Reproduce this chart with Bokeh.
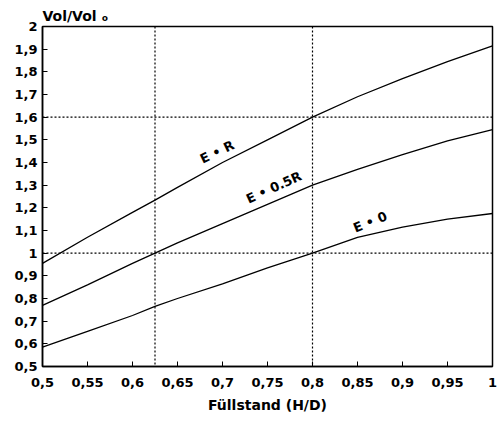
from bokeh.plotting import figure
from bokeh.models import FixedTicker, CustomJSTickFormatter, Span, Title, Range1d
from bokeh.core.properties import value
from bokeh.embed import file_html
from bokeh.resources import INLINE

# ---- data ----
fill = [0.5, 0.55, 0.6, 0.625, 0.65, 0.7, 0.75, 0.8, 0.85, 0.9, 0.95, 1.0]
vol_er = [0.955, 1.07, 1.18, 1.234, 1.29, 1.40, 1.50, 1.60, 1.69, 1.77, 1.845, 1.915]
vol_e05r = [0.77, 0.86, 0.955, 1.0, 1.045, 1.13, 1.215, 1.30, 1.37, 1.435, 1.495, 1.545]
vol_e0 = [0.585, 0.655, 0.725, 0.765, 0.80, 0.865, 0.935, 1.0, 1.07, 1.115, 1.15, 1.175]

ref_x = [0.625, 0.8]
ref_y = [1.0, 1.6]

x_ticks = [0.5, 0.55, 0.6, 0.65, 0.7, 0.75, 0.8, 0.85, 0.9, 0.95, 1.0]
y_ticks = [0.5, 0.6, 0.7, 0.8, 0.9, 1.0, 1.1, 1.2, 1.3, 1.4, 1.5, 1.6, 1.7, 1.8, 1.9, 2.0]

curve_labels = ["E \u2022 R", "E \u2022 0.5R", "E \u2022 0"]
label_x = [0.694, 0.757, 0.864]
label_y = [1.447, 1.29, 1.137]
label_angle = [25.5, 24.4, 21.8]

x_title = "F\u00fcllstand (H/D)"
y_title = "Vol/Vol \u2092"

FONT = "DejaVu Sans"

p = figure(width=497, height=425, output_backend="svg", toolbar_location=None,
           x_range=Range1d(0.5, 1.0), y_range=Range1d(0.5, 2.0),
           min_border_left=42, min_border_right=5, min_border_top=26, min_border_bottom=59)

p.grid.visible = False
p.background_fill_color = "white"
p.border_fill_color = "white"
p.outline_line_color = "black"
p.outline_line_width = 1.5

p.add_layout(Title(text=y_title, align="left", text_font=FONT, text_font_style="bold",
                   text_font_size="14px", text_color="black", standoff=6, offset=0), "above")

fmt = CustomJSTickFormatter(code="""
var s = tick.toFixed(2).replace(/0+$/, '').replace(/\\.$/, '');
return s.replace('.', ',');
""")

for ax, ticks in ((p.xaxis[0], x_ticks), (p.yaxis[0], y_ticks)):
    ax.ticker = FixedTicker(ticks=ticks)
    ax.formatter = fmt
    ax.major_tick_in = 5
    ax.major_tick_out = 0
    ax.minor_tick_in = 0
    ax.minor_tick_out = 0
    ax.axis_line_color = "black"
    ax.axis_line_width = 1.5
    ax.major_tick_line_color = "black"
    ax.major_tick_line_width = 1
    ax.major_label_text_font = FONT
    ax.major_label_text_font_style = "bold"
    ax.major_label_text_font_size = "13px"
    ax.major_label_text_color = "black"

p.xaxis[0].major_label_standoff = 11
p.yaxis[0].major_label_standoff = 5
p.xaxis[0].axis_label = x_title
p.xaxis[0].axis_label_text_font = FONT
p.xaxis[0].axis_label_text_font_style = "bold"
p.xaxis[0].axis_label_text_font_size = "14px"
p.xaxis[0].axis_label_text_color = "black"
p.xaxis[0].axis_label_standoff = 7

for rx in ref_x:
    p.add_layout(Span(location=rx, dimension="height", line_color="black",
                      line_width=1.2, line_dash="2 2"))
for ry in ref_y:
    p.add_layout(Span(location=ry, dimension="width", line_color="black",
                      line_width=1.2, line_dash="2 2"))

for ys in (vol_er, vol_e05r, vol_e0):
    p.line(fill, ys, line_color="black", line_width=1.3)

p.text(x=label_x, y=label_y, text=curve_labels, angle=label_angle, angle_units="deg",
       text_font=value(FONT), text_font_style="bold", text_font_size="13px",
       text_align="center", text_baseline="middle", text_color="black")

open("out.html", "w").write(file_html(p, INLINE))
